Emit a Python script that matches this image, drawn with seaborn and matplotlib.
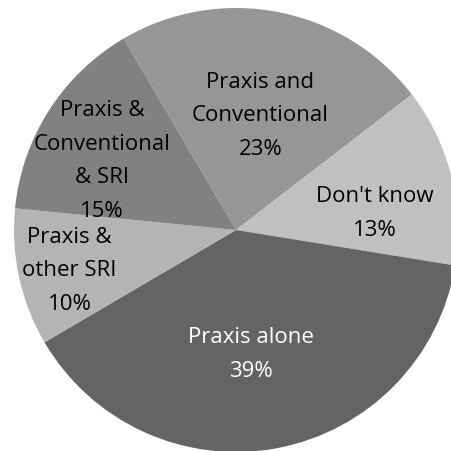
import numpy as np
import matplotlib
matplotlib.use("Agg")
import matplotlib.pyplot as plt
import seaborn as sns

sns.set_theme(style="white")
plt.rcParams['font.family'] = ['Open Sans', 'DejaVu Sans']

# Data (clockwise order)
categories = ["Praxis and\nConventional", "Don't know", "Praxis alone",
              "Praxis &\nother SRI", "Praxis &\nConventional\n& SRI"]
values = [23, 13, 39, 10, 15]

# Styles
colors = ["#969696", "#c0c0c0", "#646464", "#b4b4b4", "#818181"]
text_colors = ["black", "black", "white", "black", "black"]
label_r = [0.53, 0.63, 0.56, 0.77, 0.68]
label_dang = [-1, -7, -3.5, 1, 5]

fig = plt.figure(figsize=(4.51, 4.52), dpi=100)
ax = fig.add_axes([0, 0, 1, 1])
wedges, _ = ax.pie(values, colors=colors, startangle=120.4, counterclock=False,
                   radius=1.0, wedgeprops=dict(linewidth=0))
ax.set_aspect('auto')
ax.set_xlim(-236 / 222, (451 - 236) / 222)
ax.set_ylim(-(452 - 231) / 222, 231 / 222)
ax.axis('off')

for w, cat, v, tc, r, da in zip(wedges, categories, values, text_colors, label_r, label_dang):
    ang = np.deg2rad((w.theta1 + w.theta2) / 2 + da)
    ax.text(r * np.cos(ang), r * np.sin(ang), f"{cat}\n{v}%", ha='center', va='center',
            fontsize=16, color=tc, linespacing=1.78)

fig.savefig("out.png", dpi=100)
